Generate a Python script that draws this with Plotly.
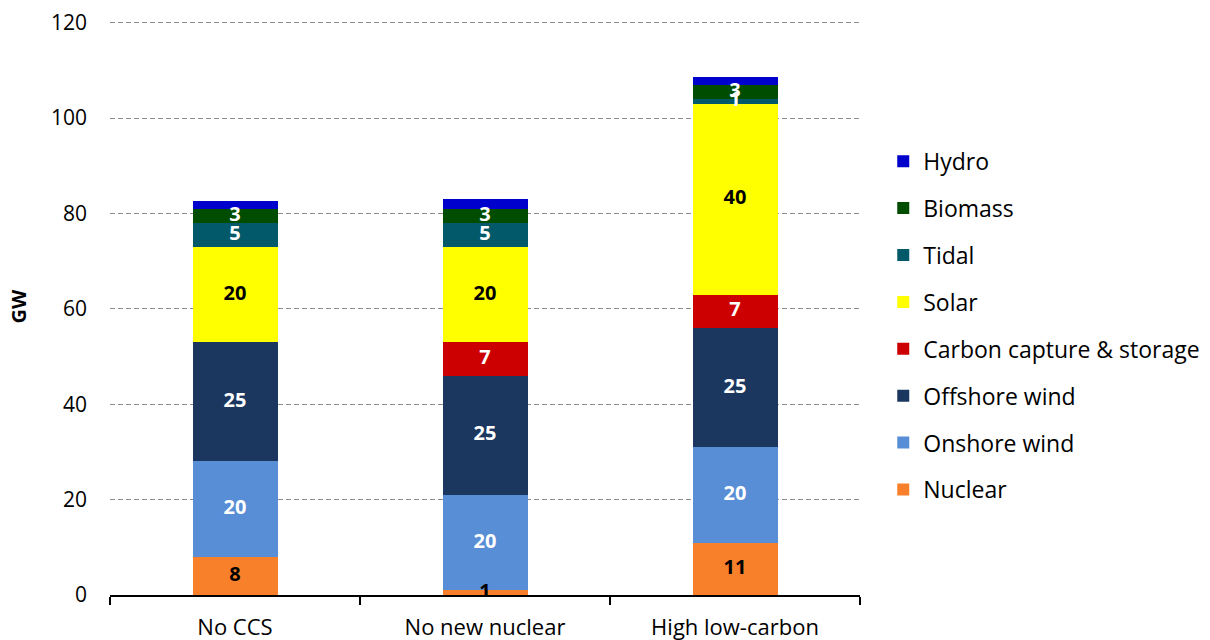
import plotly.graph_objects as go

categories = ["No CCS", "No new nuclear", "High low-carbon"]

series_names = ["Nuclear", "Onshore wind", "Offshore wind", "Carbon capture & storage",
                "Solar", "Tidal", "Biomass", "Hydro"]
nuclear = [8, 1, 11]
onshore_wind = [20, 20, 20]
offshore_wind = [25, 25, 25]
ccs = [0, 7, 7]
solar = [20, 20, 40]
tidal = [5, 5, 1]
biomass = [3, 3, 3]
hydro = [1.7, 2.0, 1.6]

series_values = [nuclear, onshore_wind, offshore_wind, ccs, solar, tidal, biomass, hydro]
colors = ["#F9802A", "#588ED5", "#1B375F", "#CC0000", "#FFFF00", "#02596A", "#004D00", "#0000CC"]
label_colors = ["black", "white", "white", "white", "black", "white", "white", None]

y_ticks = [0, 20, 40, 60, 80, 100, 120]

FONT = "Open Sans"

fig = go.Figure()

n = len(series_names)
for i, (name, vals, col) in enumerate(zip(series_names, series_values, colors)):
    fig.add_trace(go.Bar(
        x=categories, y=vals, name=name,
        marker=dict(color=col, line=dict(width=0)),
        legendgroup=name,
        legendrank=n - i,  # top of the stack listed first
        hoverinfo="name+y",
    ))

# segment value labels at the middle of each stacked block
for i, (vals, lc) in enumerate(zip(series_values, label_colors)):
    if lc is None:
        continue
    xs, ys, ts = [], [], []
    for j, cat in enumerate(categories):
        v = vals[j]
        if v <= 0:
            continue
        base = sum(series_values[k][j] for k in range(i))
        xs.append(cat)
        ys.append(base + v / 2)
        ts.append(f"{v:.0f}")
    fig.add_trace(go.Scatter(
        x=xs, y=ys, text=ts, mode="text",
        textfont=dict(family=FONT, size=20, color=lc, weight="bold"),
        showlegend=False, hoverinfo="skip",
    ))

fig.update_layout(
    barmode="stack",
    bargap=0.66,
    width=1210, height=640,
    margin=dict(l=110, r=350, t=18, b=45, autoexpand=False),
    plot_bgcolor="white", paper_bgcolor="white",
    font=dict(family=FONT, size=20, color="black"),
    legend=dict(
        traceorder="grouped",
        x=1.031, y=0.789, xanchor="left", yanchor="top",
        font=dict(family=FONT, size=23, color="black"),
        tracegroupgap=14,
        itemwidth=30,
    ),
    xaxis=dict(
        showline=True, linecolor="black", linewidth=2,
        ticks="outside", tickson="boundaries", ticklen=8, tickwidth=2, tickcolor="black",
        tickfont=dict(family=FONT, size=22),
        ticklabelstandoff=12,
        showgrid=False, automargin=False,
    ),
    yaxis=dict(
        range=[0, 121], tickvals=y_ticks,
        showline=False, zeroline=False,
        showgrid=True, gridcolor="#8C8C8C", griddash="5px,3px", gridwidth=1,
        tickfont=dict(family=FONT, size=21),
        ticks="", ticklabelstandoff=22,
        automargin=False,
        title=dict(text="<b>GW</b>", font=dict(family=FONT, size=20), standoff=18),
    ),
)

fig.write_html("out.html")
